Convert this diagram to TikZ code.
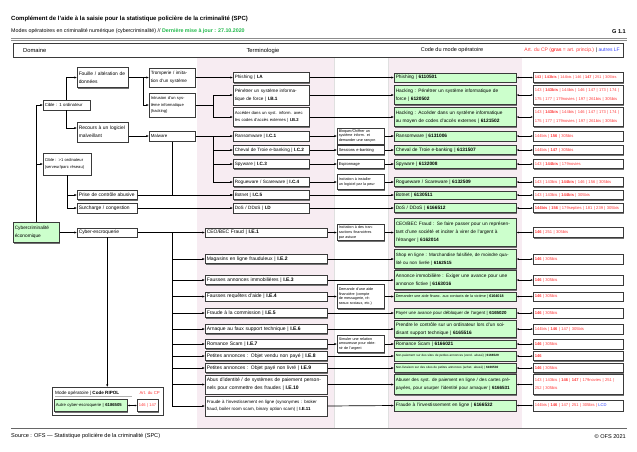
\documentclass[tikz,border=0pt]{standalone}
\usepackage{fontspec}
\setmainfont{Liberation Sans}
\usetikzlibrary{arrows.meta,shadows,calc}
\definecolor{gfill}{HTML}{CCFFCC}
\definecolor{band}{HTML}{F7ECF2}
\definecolor{artred}{HTML}{FF3838}
\definecolor{lfblue}{HTML}{3344FF}
\definecolor{upd}{HTML}{1FB84A}
\definecolor{bord}{HTML}{3A3A3A}
\newcommand\pa[1]{\textbf{#1}}
\newcommand\fs[2]{\fontsize{#1}{#2}\selectfont}
\tikzset{
  x=1pt, y=-1pt,
  sh/.style={drop shadow={shadow xshift=1pt,shadow yshift=-1pt,fill=black!55,opacity=1}},
  box/.style={rectangle, draw=bord, line width=0.5pt, fill=white, sh, inner xsep=1.5pt, inner ysep=0pt, anchor=west, align=left, text=black},
  dbox/.style={box, font=\fs{4.9}{7.8}},
  tbox/.style={box, font=\fs{4.65}{8}, text width=73},
  ebox/.style={box, font=\fs{5.0}{8}, text width=119},
  mbox/.style={box, font=\fs{3.7}{4.9}, text width=44},
  cbox/.style={box, fill=gfill, font=\fs{4.8}{8}, text width=119},
  abox/.style={box, text=artred, font=\fs{4.1}{8.5}, text width=87},
  txt/.style={inner sep=0pt},
  arr/.style={line width=0.7pt, -{Latex[length=2.6pt,width=2.2pt]}},
  darr/.style={line width=0.7pt, {Latex[length=2.2pt,width=2pt]}-{Latex[length=2.2pt,width=2pt]}},
}
\begin{document}
\begin{tikzpicture}
\useasboundingbox (0,0) rectangle (637,451);
% bands
\fill[band] (197,57) rectangle (334,428);
\fill[band] (388,57) rectangle (522,428);
\draw[black!12, line width=0.3pt] (334,57) -- (334,428) (388,57) -- (388,428);
% title
\node[txt, anchor=west, font=\bfseries\fs{6.0}{7}] (title) at (11,19) {Complément de l'aide à la saisie pour la statistique policière de la criminalité (SPC)};
\node[txt, anchor=west, font=\fs{5.3}{6}] (sub) at (11,31.5) {Modes opératoires en criminalité numérique (cybercriminalité) // {\color{upd}\bfseries Dernière mise à jour : 27.10.2020}};
\node[txt, anchor=east, font=\bfseries\fs{5.6}{6}] (g11) at (626,31.5) {G 1.1};
\draw[black!45, line width=0.7pt] (11,38.3) -- (627,38.3) (11,40.8) -- (627,40.8);
% header
\node[box, minimum width=610, minimum height=14, anchor=north west] (hdr) at (13,43) {};
\node[txt, anchor=west, font=\fs{5.8}{6}] (h1) at (23,50.5) {Domaine};
\node[txt, font=\fs{5.8}{6}] (h2) at (263,50.5) {Terminologie};
\node[txt, font=\fs{5.5}{6}] (h3) at (452,50.5) {Code du mode opératoire};
\node[txt, anchor=east, font=\fs{5.0}{6}] (h4) at (620,50.5) {{\color{artred}Art. du CP (\textbf{gras} = art. princip.)} | {\color{lfblue}autres LF}};

% domain column
\node[dbox, fill=gfill, font=\fs{4.8}{7.8}, text width=43, minimum height=20] (eco) at (13,232.5) {Cybercriminalité\\économique};
\node[dbox, font=\fs{4.3}{5}, text width=44, minimum height=10] (cible1) at (43,105) {Cible : 1 ordinateur};
\node[dbox, font=\fs{4.1}{7}, text width=45, minimum height=22] (cible2) at (43,164) {Cible : >1 ordinateur\\(serveur/parc réseau)};
\node[dbox, text width=48, minimum height=20] (fouille) at (77,77.5) {Fouille / altération de\\données};
\node[dbox, text width=48, minimum height=20] (recours) at (77,132) {Recours à un logiciel\\malveillant};
\node[dbox, text width=57, minimum height=9] (prise) at (77,195) {Prise de contrôle abusive};
\node[dbox, text width=57, minimum height=9.5] (surch) at (77,208) {Surcharge / congestion};
\node[dbox, text width=57, minimum height=9] (escro) at (77,232.5) {Cyber-escroquerie};
\node[dbox, font=\fs{4.6}{7.5}, text width=43, minimum height=19.5] (trompe) at (149,77.5) {Tromperie / imita-\\tion d'un système};
\node[dbox, font=\fs{4.1}{6.3}, text width=43, minimum height=24] (intrus) at (149,105) {Intrusion d'un sys-\\tème informatique\\(hacking)};
\node[dbox, font=\fs{4.4}{5}, text width=43, minimum height=10.5] (malware) at (149,136) {Malware};

% terminology
\node[tbox, minimum height=10] (ia) at (233,77.5) {Phishing | \pa{I.A}};
\node[tbox, minimum height=20] (ib1) at (233,95) {Pénétrer un système informa-\\tique de force | \pa{I.B.1}};
\node[tbox, font=\fs{4.2}{7.5}, minimum height=19] (ib2) at (233,117) {Accéder dans un syst. inform. avec\\les codes d'accès externes | \pa{I.B.2}};
\node[tbox, minimum height=10] (ic1) at (233,136) {Ransomware | \pa{I.C.1}};
\node[tbox, minimum height=9] (ic2) at (233,150) {Cheval de Troie e-banking | \pa{I.C.2}};
\node[tbox, minimum height=9] (ic3) at (233,164) {Spyware | \pa{I.C.3}};
\node[tbox, minimum height=9] (ic4) at (233,182) {Rogueware / Scareware | \pa{I.C.4}};
\node[tbox, minimum height=9] (ic5) at (233,195) {Botnet | \pa{I.C.5}};
\node[tbox, minimum height=9.5] (id) at (233,208) {DoS / DDoS | \pa{I.D}};
\node[ebox, minimum height=9] (ie1) at (205,232.5) {CEO/BEC Fraud | \pa{I.E.1}};
\node[ebox, minimum height=9] (ie2) at (205,259) {Magasins en ligne frauduleux | \pa{I.E.2}};
\node[ebox, minimum height=9] (ie3) at (205,280) {Fausses annonces immobilières | \pa{I.E.3}};
\node[ebox, minimum height=9] (ie4) at (205,296.5) {Fausses requêtes d'aide | \pa{I.E.4}};
\node[ebox, minimum height=9] (ie5) at (205,313) {Fraude à la commission | \pa{I.E.5}};
\node[ebox, minimum height=9] (ie6) at (205,329) {Arnaque au faux support technique | \pa{I.E.6}};
\node[ebox, minimum height=9] (ie7) at (205,344) {Romance Scam | \pa{I.E.7}};
\node[ebox, minimum height=9] (ie8) at (205,356) {Petites annonces : Objet vendu non payé | \pa{I.E.8}};
\node[ebox, minimum height=9] (ie9) at (205,368) {Petites annonces : Objet payé non livré | \pa{I.E.9}};
\node[ebox, minimum height=19] (ie10) at (205,384.5) {Abus d'identité / de systèmes de paiement person-\\nels pour commettre des fraudes | \pa{I.E.10}};
\node[ebox, font=\fs{4.4}{7.5}, minimum height=20] (ie11) at (205,406) {Fraude à l'investissement en ligne (synonymes : broker\\fraud, boiler room scam, binary option scam) | \pa{I.E.11}};

% middle
\node[mbox, minimum height=16] (m1) at (337,136) {Bloquer/Chiffrer un\\système inform. et\\demander une rançon};
\node[mbox, font=\fs{4.0}{5}, minimum height=9] (m2) at (337,150) {Sessions e-banking};
\node[mbox, font=\fs{4.0}{5}, minimum height=9] (m3) at (337,164) {Espionnage};
\node[mbox, minimum height=15] (m4) at (337,182) {Incitation à installer\\un logiciel par la peur};
\node[mbox, minimum height=16] (m5) at (337,232.5) {Incitation à des tran-\\sactions financières\\par astuce};
\node[mbox, minimum height=24] (m6) at (337,296.5) {Demande d'une aide\\financière (compte\\de messagerie, ré-\\seaux sociaux, etc.)};
\node[mbox, minimum height=17] (m7) at (337,344) {Simuler une relation\\amoureuse pour obte-\\nir de l'argent};

% codes
\node[cbox, minimum height=9] (ca) at (394,77.5) {Phishing | \pa{6110501}};
\node[cbox, minimum height=19] (cb1) at (394,95) {Hacking : Pénétrer un système informatique de\\force | \pa{6120502}};
\node[cbox, minimum height=19] (cb2) at (394,117) {Hacking : Accéder dans un système informatique\\au moyen de codes d'accès externes | \pa{6121502}};
\node[cbox, minimum height=10] (cc1) at (394,136) {Ransomware | \pa{6131006}};
\node[cbox, minimum height=9] (cc2) at (394,150) {Cheval de Troie e-banking | \pa{6131507}};
\node[cbox, minimum height=9] (cc3) at (394,164) {Spyware | \pa{6132008}};
\node[cbox, minimum height=9] (cc4) at (394,182) {Rogueware / Scareware | \pa{6132509}};
\node[cbox, minimum height=8.5] (cc5) at (394,195) {Botnet | \pa{6130511}};
\node[cbox, minimum height=9] (cd) at (394,208) {DoS / DDoS | \pa{6166512}};
\node[cbox, minimum height=28] (ce1) at (394,232.5) {CEO/BEC Fraud : Se faire passer pour un représen-\\tant d'une société et inciter à virer de l'argent à\\l'étranger | \pa{6162014}};
\node[cbox, font=\fs{4.55}{8}, minimum height=19] (ce2) at (394,259) {Shop en ligne : Marchandise falsifiée, de moindre qua-\\lité ou non livrée | \pa{6162515}};
\node[cbox, minimum height=19] (ce3) at (394,280) {Annonce immobilière : Exiger une avance pour une\\annonce fictive | \pa{6163016}};
\node[cbox, font=\fs{3.7}{5}, minimum height=9] (ce4) at (394,296.5) {Demander une aide financ. aux contacts de la victime | \pa{6164018}};
\node[cbox, font=\fs{4.4}{5}, minimum height=10] (ce5) at (394,313) {Payer une avance pour débloquer de l'argent | \pa{6165020}};
\node[cbox, minimum height=17] (ce6) at (394,329) {Prendre le contrôle sur un ordinateur lors d'un soi-\\disant support technique | \pa{6165516}};
\node[cbox, minimum height=8.5] (ce7) at (394,344) {Romance Scam | \pa{6166021}};
\node[cbox, font=\fs{3.1}{4}, minimum height=9.5] (ce8) at (394,356) {Non-paiement sur des sites de petites annonces (vend. abusé) | \pa{6166529}};
\node[cbox, font=\fs{3.1}{4}, minimum height=9] (ce9) at (394,368) {Non-livraison sur des sites de petites annonces (achet. abusé) | \pa{6166530}};
\node[cbox, font=\fs{4.55}{8}, minimum height=20] (ce10) at (394,384.5) {Abuser des syst. de paiement en ligne / des cartes pré-\\payées, pour usurper l'identité pour arnaquer | \pa{6166531}};
\node[cbox, minimum height=11] (ce11) at (394,405.5) {Fraude à l'investissement en ligne | \pa{6166532}};

% articles
\node[abox, font=\fs{3.85}{5}, minimum height=10] (aa) at (533,77.5) {\pa{143} | \pa{143bis} | 144bis | 146 | \pa{147} | 251 | 305bis};
\node[abox, minimum height=19] (ab1) at (533,95) {143 | \pa{143bis} | 144bis | 146 | 147 | 173 | 174 |\\175 | 177 | 179novies | 197 | 261bis | 305bis};
\node[abox, minimum height=19] (ab2) at (533,117) {143 | \pa{143bis} | 144bis | 146 | 147 | 173 | 174 |\\175 | 177 | 179novies | 197 | 261bis | 305bis};
\node[abox, minimum height=10] (ac1) at (533,136) {144bis | \pa{156} | 305bis};
\node[abox, minimum height=9] (ac2) at (533,150) {144bis | \pa{147} | 305bis};
\node[abox, minimum height=9] (ac3) at (533,164) {143 | \pa{144bis} | 179novies};
\node[abox, minimum height=9] (ac4) at (533,182) {143 | 143bis | \pa{144bis} | 146 | 156 | 305bis};
\node[abox, minimum height=9] (ac5) at (533,195) {143 | 143bis | \pa{144bis} | 305bis};
\node[abox, minimum height=9] (ad) at (533,208) {\pa{144bis} | \pa{156} | 179septies | 181 | 239 | 305bis};
\node[abox, minimum height=10] (ae1) at (533,232.5) {\pa{146} | 251 | 305bis};
\node[abox, minimum height=10] (ae2) at (533,259) {\pa{146} | 305bis};
\node[abox, minimum height=10] (ae3) at (533,280) {\pa{146} | 305bis};
\node[abox, minimum height=9] (ae4) at (533,296.5) {\pa{146} | 305bis};
\node[abox, minimum height=10] (ae5) at (533,313) {\pa{146} | 305bis};
\node[abox, minimum height=10] (ae6) at (533,329) {144bis | \pa{146} | 147 | 305bis};
\node[abox, minimum height=10] (ae7) at (533,344) {\pa{146} | 305bis};
\node[abox, minimum height=9] (ae8) at (533,356) {\pa{146}};
\node[abox, minimum height=9] (ae9) at (533,368) {\pa{146} | 305bis};
\node[abox, minimum height=20] (ae10) at (533,384.5) {143 | 143bis | \pa{146} | \pa{147} | 179novies | 251 |\\252 | 305bis};
\node[abox, minimum height=11] (ae11) at (533,405.5) {144bis | \pa{146} | 147 | 251 | 305bis | {\color{lfblue}LCD}};

% legend
\node[box, minimum width=111, minimum height=28, anchor=north west] (legend) at (52,387) {};
\node[txt, anchor=west, font=\fs{4.6}{6}] (lgt) at (55,393) {Mode opératoire | \textbf{Code RIPOL}};
\draw[black!30, line width=0.4pt] (55,396.5) -- (132,396.5);
\node[txt, anchor=east, text=artred, font=\fs{4.3}{5}] (lga) at (160,393) {Art. du CP};
\node[cbox, font=\fs{4.25}{5}, text width=70, minimum height=12] (lgc) at (54,405.5) {Autre cyber-escroquerie | \pa{6186505}};
\node[abox, font=\fs{4.1}{5}, text width=18, minimum height=12] (lgr) at (137,405.5) {146 | 147};
\draw[darr] (lgc.east) -- (lgr.west);

% footer
\draw[black!60, line width=0.6pt] (11,428.5) -- (627,428.5);
\node[txt, anchor=west, font=\fs{5.6}{6}] (src) at (11,436.5) {Source : OFS — Statistique policière de la criminalité (SPC)};
\node[txt, anchor=east, font=\fs{5.6}{6}] (copy) at (626,436.5) {© OFS 2021};

% junctions
\coordinate (j1) at (143,77.5);
\coordinate (j2) at (213,105);
\coordinate (j3) at (213,136);
\coordinate (j4) at (172,232.5);

% domain connectors
\draw[arr] (eco.north) |- (cible1.west);
\draw[arr] (eco.north) |- (cible2.west);
\draw[arr] (eco.east) -- (escro.west);
\draw[arr] (cible1.north) |- (fouille.west);
\draw[arr] (cible1.south) |- ([yshift=4pt]recours.west);
\draw[arr] (cible2.south) |- (prise.west);
\draw[arr] (cible2.south) |- (surch.west);
\draw[arr] (fouille.east) -- (trompe.west);
\draw[arr] (j1) |- (intrus.west);
\draw[arr] ([yshift=-4pt]recours.east) -- (malware.west);
\draw[arr] (trompe.east) -- (ia.west);
\draw (intrus.east) -- (j2);
\draw[arr] (j2) |- (ib1.west);
\draw[arr] (j2) |- (ib2.west);
\draw[arr] (malware.east) -- (ic1.west);
\draw[arr] (j3) |- (ic2.west);
\draw[arr] (j3) |- (ic3.west);
\draw[arr] (j3) |- (ic4.west);
\draw[arr] (malware.south) |- (ic5.west);
\draw[arr] (prise.east) -- (ic5.west);
\draw[arr] (surch.east) -- (id.west);
\draw[arr] (escro.east) -- (ie1.west);
\foreach \n in {ie2,ie3,ie4,ie5,ie6,ie7,ie8,ie9,ie10,ie11} \draw[arr] (j4) |- (\n.west);
\draw[arr] (escro.south) -- (escro.south |- legend.north);

% terminology -> code
\draw[arr] (ia.east) -- (ca.west);
\draw[arr] (ib1.east) -- (cb1.west);
\draw[arr] (ib2.east) -- (cb2.west);
\draw[arr] (ic1.east) -- (m1.west);
\draw[arr] (m1.east) -- (cc1.west);
\draw[arr] (ic2.east) -- (m2.west);
\draw[arr] (m2.east) -- (cc2.west);
\draw[arr] (ic3.east) -- (m3.west);
\draw[arr] (m3.east) -- (cc3.west);
\draw[arr] (ic4.east) -- (m4.west);
\draw[arr] (m4.east) -- (cc4.west);
\draw[arr] (ic5.east) -- (cc5.west);
\draw[arr] (id.east) -- (cd.west);
\draw[arr] (ie1.east) -- (m5.west);
\draw[arr] (m5.east) -- (ce1.west);
\draw[arr] (ie2.east) -- (ce2.west);
\draw[arr] (ie3.east) -- (ce3.west);
\draw[arr] (ie4.east) -- (m6.west);
\draw[arr] (m6.east) -- (ce4.west);
\draw[arr] (ie5.east) -- (ce5.west);
\draw[arr] (ie6.east) -- (ce6.west);
\draw[arr] (ie7.east) -- (m7.west);
\draw[arr] (m7.east) -- (ce7.west);
\draw[arr] (ie8.east) -- (ce8.west);
\draw[arr] (ie9.east) -- (ce9.west);
\draw[arr] (ie10.east) -- (ce10.west);
\draw[arr] (ie11.east) -- (ce11.west);

% code <-> articles
\draw[darr] (ca.east) -- (aa.west);
\draw[darr] (cb1.east) -- (ab1.west);
\draw[darr] (cb2.east) -- (ab2.west);
\draw[darr] (cc1.east) -- (ac1.west);
\draw[darr] (cc2.east) -- (ac2.west);
\draw[darr] (cc3.east) -- (ac3.west);
\draw[darr] (cc4.east) -- (ac4.west);
\draw[darr] (cc5.east) -- (ac5.west);
\draw[darr] (cd.east) -- (ad.west);
\draw[darr] (ce1.east) -- (ae1.west);
\draw[darr] (ce2.east) -- (ae2.west);
\draw[darr] (ce3.east) -- (ae3.west);
\draw[darr] (ce4.east) -- (ae4.west);
\draw[darr] (ce5.east) -- (ae5.west);
\draw[darr] (ce6.east) -- (ae6.west);
\draw[darr] (ce7.east) -- (ae7.west);
\draw[darr] (ce8.east) -- (ae8.west);
\draw[darr] (ce9.east) -- (ae9.west);
\draw[darr] (ce10.east) -- (ae10.west);
\draw[darr] (ce11.east) -- (ae11.west);
\end{tikzpicture}
\end{document}
